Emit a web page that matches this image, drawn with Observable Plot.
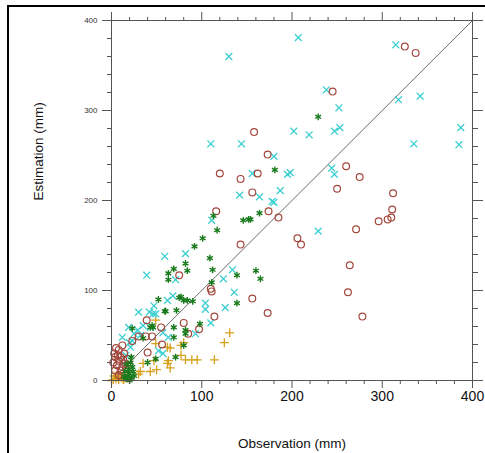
<!DOCTYPE html>
<html><head><meta charset="utf-8">
<script src="https://cdn.jsdelivr.net/npm/d3@7"></script>
<script src="https://cdn.jsdelivr.net/npm/@observablehq/plot@0.6"></script>
<style>
body{margin:0;background:#fff;}
#wrap{position:relative;width:485px;height:453px;overflow:hidden;background:#fff;}
#border{position:absolute;left:7px;top:5px;width:700px;height:700px;border-left:2px solid #000;border-top:2px solid #000;pointer-events:none;}
#chart{position:absolute;left:0;top:0;}
</style></head><body><div id="wrap"><div id="chart"></div><div id="border"></div></div>
<script>
// Axis ticks
const majorTicks = [0, 100, 200, 300, 400];
const minorTicks = [20, 40, 60, 80, 120, 140, 160, 180, 220, 240, 260, 280, 320, 340, 360, 380];
const xTitle = "Observation (mm)";
const yTitle = "Estimation (mm)";
const diag = [0, 400];

// Series: [observation, estimation]
const brown = [
  [325,371],[337,364],[245,321],[158,276],[120,230],[143,224],[173,251],[162,230],
  [260,238],[275,226],[250,213],[156,209],[312,208],[174,188],[185,181],[311,190],
  [296,177],[306,179],[310,181],[271,168],[206,158],[210,151],[143,151],[264,128],
  [262,98],[156,91],[173,75],[278,71],[116,188],[75,117],[110,102],[111,99],
  [114,71],[80,64],[97,57],[39,67],[55,59],[85,52],[45,49],[38,49],[30,49],
  [56,40],[40,31],[23,44],[12,39],[8,34],[4,26],[8,22],[15,19],[4,11],[8,6],
  [12,15],[3,30],[10,26],[13,23],[6,17],[10,11],[16,13],[18,24],[5,36],[2,20],
  [14,30],[20,17],[7,28],[11,4]
];
const cyan = [
  [130,360],[110,263],[144,263],[207,381],[315,373],[238,323],[252,303],[318,312],
  [342,316],[202,277],[219,273],[247,277],[253,281],[387,281],[335,263],[385,262],
  [180,249],[156,230],[195,229],[198,231],[244,236],[247,229],[142,206],[164,204],
  [187,211],[178,199],[180,198],[229,166],[134,123],[136,98],[111,178],[59,138],
  [82,141],[39,117],[124,113],[71,112],[68,94],[62,89],[104,86],[104,79],[126,81],
  [47,83],[42,76],[49,74],[110,64],[43,59],[93,52],[63,48],[30,76],[19,59],[25,52],
  [57,53],[52,33],[57,30],[12,48],[21,37],[46,74],[23,44],[32,50],[29,56],[35,61],
  [13,19],[16,28],[20,42]
];
const green = [
  [229,293],[181,234],[146,178],[152,179],[154,179],[164,186],[139,117],[160,122],
  [165,113],[113,183],[117,167],[101,158],[92,149],[82,130],[84,122],[69,124],
  [63,119],[63,112],[109,136],[112,123],[111,109],[75,92],[80,89],[84,89],[90,88],
  [72,78],[60,77],[139,86],[98,63],[69,59],[82,56],[45,61],[52,90],[59,77],[77,93],
  [82,52],[69,48],[80,39],[71,26],[49,24],[40,20],[46,59],[23,58],[35,47],[43,59],
  [16,2],[18,5],[20,8],[22,3],[19,12],[23,15],[17,18],[21,20],[24,10],[15,10],
  [20,0],[25,5],[14,4],[22,26]
];
const gold = [
  [131,53],[125,42],[49,67],[77,39],[65,36],[82,23],[95,23],[89,23],[114,23],
  [77,28],[62,19],[65,14],[50,12],[43,10],[32,10],[30,7],[47,22],[63,22],[80,42],
  [35,19],[49,41],[62,37],[2,1],[5,2],[8,1],[11,3],[14,2],[3,5],[7,4],[0,0],
  [10,6],[13,1],[16,4],[20,2]
];

const font = "Liberation Sans, Arial, Helvetica, sans-serif";
const axisStroke = "#555";

const chart = Plot.plot({
  width: 485, height: 453,
  marginLeft: 111, marginRight: 13, marginTop: 20, marginBottom: 73,
  style: {fontFamily: font, background: "transparent", color: "#222", overflow: "visible"},
  x: {domain: [0, 400]},
  y: {domain: [0, 400]},
  marks: [
    Plot.line(diag, {x: d => d, y: d => d, stroke: "#444", strokeWidth: 0.8}),
    Plot.dot(gold, {x: d => d[0], y: d => d[1], symbol: "plus", stroke: "#d6a11a", r: 3.0, strokeWidth: 1.3}),
    Plot.dot(cyan, {x: d => d[0], y: d => d[1], symbol: "times", stroke: "#3ccfd2", r: 3.2, strokeWidth: 1.3}),
    Plot.dot(brown, {x: d => d[0], y: d => d[1], symbol: "circle", stroke: "#a3473d", fill: "none", r: 3.4, strokeWidth: 1.2}),
    Plot.dot(green, {x: d => d[0], y: d => d[1], symbol: "asterisk", stroke: "#187a1c", r: 3.2, strokeWidth: 1.4}),
    Plot.frame({stroke: axisStroke, strokeWidth: 1}),
    Plot.axisX({anchor: "bottom", ticks: majorTicks, tickSize: 8, tickPadding: 3, fontSize: 14, stroke: axisStroke, fill: "#111", label: null}),
    Plot.axisX({anchor: "bottom", ticks: minorTicks, tickSize: 4, tickFormat: () => "", stroke: axisStroke, label: null}),
    Plot.axisX({anchor: "top", ticks: majorTicks, tickSize: 9, tickFormat: () => "", stroke: axisStroke, label: null}),
    Plot.axisX({anchor: "top", ticks: minorTicks, tickSize: 4, tickFormat: () => "", stroke: axisStroke, label: null}),
    Plot.axisY({anchor: "left", ticks: majorTicks, tickSize: 9, tickPadding: 5, fontSize: 8, stroke: axisStroke, fill: "#333", label: null}),
    Plot.axisY({anchor: "left", ticks: minorTicks, tickSize: 4, tickFormat: () => "", stroke: axisStroke, label: null}),
    Plot.axisY({anchor: "right", ticks: majorTicks, tickSize: 10, tickFormat: () => "", stroke: axisStroke, label: null}),
    Plot.axisY({anchor: "right", ticks: minorTicks, tickSize: 5, tickFormat: () => "", stroke: axisStroke, label: null}),
    Plot.text([xTitle], {frameAnchor: "bottom", dy: 63, text: d => d, fontSize: 13.5, fill: "#111", lineAnchor: "middle"}),
    Plot.text([yTitle], {frameAnchor: "left", dx: -73, text: d => d, fontSize: 13.5, fill: "#111", rotate: -90, lineAnchor: "middle"})
  ]
});
document.getElementById("chart").appendChild(chart);
</script>
</body></html>
